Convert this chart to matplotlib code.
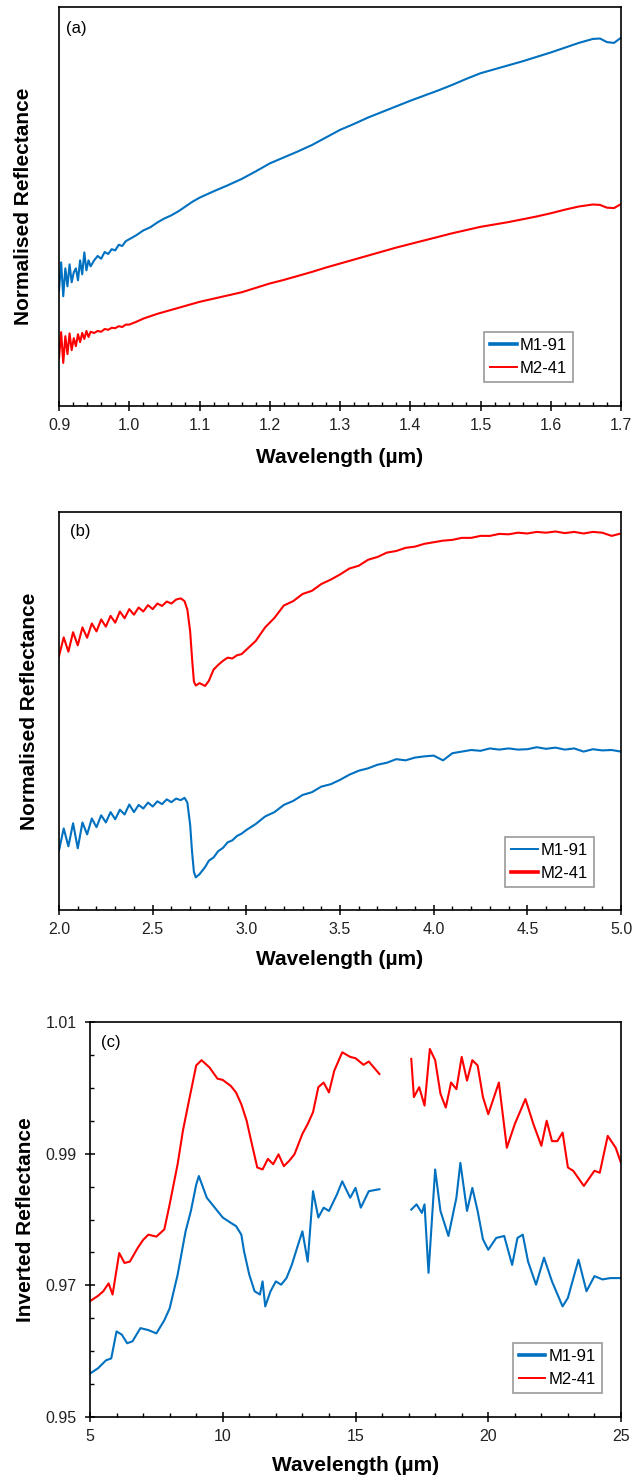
import matplotlib
matplotlib.use("Agg")
import matplotlib.pyplot as plt
from matplotlib.ticker import MultipleLocator, FormatStrFormatter

plt.rcParams['font.family'] = ['Liberation Sans', 'DejaVu Sans']

BLUE = '#0070C0'
RED = '#FF0000'

# (a) NIR, normalised reflectance (arbitrary units)
wl_a = [0.900, 0.903, 0.906, 0.909, 0.912, 0.915, 0.918, 0.921, 0.924, 0.927, 0.930, 0.933, 0.936, 0.939, 0.942, 0.945,
        0.950, 0.955, 0.960, 0.965, 0.970, 0.975, 0.980, 0.985, 0.990, 0.995, 1.000,
        1.01, 1.02, 1.03, 1.04, 1.05, 1.06, 1.07, 1.08, 1.09, 1.10,
        1.12, 1.14, 1.16, 1.18, 1.20, 1.22, 1.24, 1.26, 1.28, 1.30, 1.32, 1.34, 1.36, 1.38, 1.40,
        1.42, 1.44, 1.46, 1.48, 1.50, 1.52, 1.54, 1.56, 1.58, 1.60, 1.62, 1.64, 1.66,
        1.67, 1.68, 1.69, 1.70]
m1_a = [29.0, 36.0, 27.5, 34.5, 30.0, 35.5, 31.0, 33.5, 34.5, 31.5, 36.5, 33.0, 38.5, 34.0, 36.5, 35.0,
        36.5, 37.6, 36.9, 38.6, 38.1, 39.3, 39.0, 40.4, 40.1, 41.3, 41.8,
        42.8, 44.0, 44.8, 46.0, 47.0, 47.8, 48.8, 50.0, 51.2, 52.2,
        53.8, 55.3, 56.9, 58.8, 60.8, 62.3, 63.8, 65.4, 67.3, 69.2, 70.7, 72.3, 73.7, 75.1, 76.5,
        77.8, 79.1, 80.5, 82.0, 83.4, 84.4, 85.4, 86.4, 87.5, 88.6, 89.8, 91.0, 92.0,
        92.1, 91.2, 91.0, 92.3]
m2_a = [12.0, 18.5, 10.8, 17.5, 13.0, 18.2, 14.0, 17.0, 15.0, 18.0, 16.0, 18.3, 16.8, 18.8, 17.3, 18.6,
        18.3, 18.8, 18.6, 19.3, 19.1, 19.6, 19.5, 20.0, 19.8, 20.4, 20.4,
        21.1, 21.9, 22.5, 23.1, 23.6, 24.1, 24.6, 25.1, 25.6, 26.1,
        26.9, 27.7, 28.5, 29.6, 30.7, 31.6, 32.6, 33.6, 34.7, 35.7, 36.7, 37.7, 38.7, 39.7, 40.6,
        41.5, 42.4, 43.3, 44.1, 44.9, 45.5, 46.1, 46.8, 47.5, 48.3, 49.2, 50.0, 50.5,
        50.4, 49.7, 49.6, 50.6]

# (b) 2-5 um, normalised reflectance (arbitrary units)
wl_b = [2.000, 2.025, 2.050, 2.075, 2.100, 2.125, 2.150, 2.175, 2.200, 2.225, 2.250, 2.275, 2.300, 2.325,
        2.350, 2.375, 2.400, 2.425, 2.450, 2.475, 2.500, 2.525, 2.550, 2.575, 2.600, 2.625, 2.650,
        2.670, 2.685, 2.700, 2.710, 2.720, 2.730, 2.750, 2.780, 2.800, 2.825, 2.850, 2.875, 2.900,
        2.925, 2.950, 2.975, 3.000,
        3.05, 3.10, 3.15, 3.20, 3.25, 3.30, 3.35, 3.40, 3.45, 3.50, 3.55, 3.60, 3.65, 3.70, 3.75,
        3.80, 3.85, 3.90, 3.95, 4.00, 4.05, 4.10, 4.15, 4.20, 4.25, 4.30, 4.35, 4.40, 4.45, 4.50,
        4.55, 4.60, 4.65, 4.70, 4.75, 4.80, 4.85, 4.90, 4.95, 5.00]
m1_b = [15.0, 20.5, 16.0, 21.8, 15.5, 22.0, 19.0, 23.0, 20.8, 23.8, 22.0, 24.6, 22.8, 25.2,
        24.0, 26.5, 24.6, 26.4, 25.5, 27.0, 26.0, 27.3, 26.6, 27.8, 27.1, 28.0, 27.6,
        28.2, 27.0, 21.4, 14.7, 9.6, 8.2, 9.0, 10.8, 12.4, 13.2, 14.8, 15.6, 17.0,
        17.5, 18.6, 19.2, 20.1,
        21.6, 23.5, 24.6, 26.4, 27.4, 28.9, 29.6, 31.0, 31.6, 32.7, 34.0, 35.0, 35.6, 36.5, 37.0,
        37.9, 37.6, 38.3, 38.6, 38.8, 37.6, 39.4, 39.8, 40.2, 40.0, 40.6, 40.3, 40.6, 40.3, 40.4,
        40.9, 40.5, 40.8, 40.3, 40.6, 39.8, 40.4, 40.1, 40.2, 39.8]
m2_b = [63.8, 68.5, 64.9, 69.8, 66.5, 71.0, 68.4, 72.0, 70.0, 73.0, 71.2, 73.9, 72.2, 75.0,
        73.3, 75.6, 74.2, 76.0, 75.0, 76.6, 75.6, 77.0, 76.4, 77.5, 77.0, 78.0, 78.3,
        77.6, 75.5, 70.0, 63.3, 57.4, 56.4, 57.0, 56.3, 57.6, 60.4, 61.6, 62.6, 63.4,
        63.2, 64.0, 64.3, 65.4,
        67.6, 71.0, 73.4, 76.5, 77.6, 79.4, 80.2, 81.9, 83.0, 84.3, 85.8, 86.5, 88.0, 88.7, 89.8,
        90.2, 91.0, 91.3, 92.0, 92.4, 92.8, 93.0, 93.5, 93.5, 94.0, 94.0, 94.5, 94.4, 94.8, 94.6,
        95.0, 94.8, 95.1, 94.7, 95.0, 94.6, 95.0, 94.8, 94.0, 94.6]

# (c) mid-IR, inverted reflectance, two segments with a gap
wl_c1_m1 = [5.0, 5.3, 5.6, 5.8, 6.0, 6.2, 6.4, 6.6, 6.9, 7.2, 7.5, 7.8, 8.0, 8.3, 8.6, 8.8, 9.0, 9.1,
            9.4, 9.7, 10.0, 10.3, 10.5, 10.7, 10.8, 11.0, 11.2, 11.4, 11.5, 11.6, 11.8, 12.0, 12.2,
            12.4, 12.6, 12.8, 13.0, 13.2, 13.4, 13.6, 13.8, 14.0, 14.3, 14.5, 14.8, 15.0, 15.2, 15.5, 15.9]
m1_c1 = [0.9566, 0.9574, 0.9586, 0.9589, 0.9630, 0.9625, 0.9612, 0.9615, 0.9635, 0.9632, 0.9627, 0.9647,
         0.9665, 0.9716, 0.9782, 0.9813, 0.9853, 0.9866, 0.9833, 0.9818, 0.9803, 0.9795, 0.9790, 0.9777,
         0.9752, 0.9716, 0.9691, 0.9686, 0.9706, 0.9668, 0.9691, 0.9706, 0.9701, 0.9711, 0.9731, 0.9757,
         0.9782, 0.9736, 0.9843, 0.9803, 0.9818, 0.9813, 0.9838, 0.9858, 0.9833, 0.9848, 0.9818, 0.9843,
         0.9846]
wl_c2_m1 = [17.1, 17.3, 17.5, 17.6, 17.75, 18.0, 18.2, 18.5, 18.8, 18.95, 19.2, 19.4, 19.6, 19.8, 20.0,
            20.3, 20.6, 20.9, 21.1, 21.3, 21.5, 21.8, 22.1, 22.4, 22.8, 23.0, 23.4, 23.7, 24.0, 24.3,
            24.6, 25.0]
m1_c2 = [0.9815, 0.9823, 0.9810, 0.9823, 0.9719, 0.9876, 0.9813, 0.9775, 0.9833, 0.9886, 0.9813, 0.9848,
         0.9813, 0.9770, 0.9754, 0.9772, 0.9775, 0.9731, 0.9772, 0.9777, 0.9736, 0.9701, 0.9742, 0.9706,
         0.9668, 0.9681, 0.9739, 0.9691, 0.9714, 0.9709, 0.9711, 0.9711]
wl_c1_m2 = [5.0, 5.3, 5.5, 5.7, 5.85, 6.1, 6.3, 6.5, 6.8, 7.0, 7.2, 7.5, 7.8, 8.0, 8.3, 8.5, 8.7, 9.0,
            9.2, 9.5, 9.8, 10.0, 10.3, 10.5, 10.7, 10.9, 11.1, 11.3, 11.5, 11.7, 11.9, 12.1, 12.3, 12.5,
            12.7, 13.0, 13.2, 13.4, 13.6, 13.8, 14.0, 14.2, 14.5, 14.8, 15.0, 15.3, 15.5, 15.9]
m2_c1 = [0.9676, 0.9684, 0.9691, 0.9703, 0.9686, 0.9749, 0.9734, 0.9736, 0.9757, 0.9769, 0.9777, 0.9774,
         0.9785, 0.9823, 0.9884, 0.9935, 0.9975, 1.0034, 1.0042, 1.0031, 1.0014, 1.0012, 1.0003, 0.9993,
         0.9975, 0.9950, 0.9914, 0.9879, 0.9876, 0.9892, 0.9884, 0.9899, 0.9881, 0.9889, 0.9899, 0.9930,
         0.9945, 0.9963, 1.0001, 1.0008, 0.9993, 1.0026, 1.0054, 1.0047, 1.0045, 1.0035, 1.0040, 1.0021]
wl_c2_m2 = [17.1, 17.2, 17.4, 17.6, 17.8, 18.0, 18.2, 18.4, 18.6, 18.8, 19.0, 19.2, 19.4, 19.6, 19.8,
            20.0, 20.4, 20.7, 21.0, 21.4, 21.7, 22.0, 22.2, 22.4, 22.6, 22.8, 23.0, 23.2, 23.6, 24.0,
            24.2, 24.5, 24.8, 25.0]
m2_c2 = [1.0044, 0.9986, 1.0001, 0.9973, 1.0059, 1.0042, 0.9991, 0.9970, 1.0008, 0.9998, 1.0047, 1.0011,
         1.0042, 1.0034, 0.9986, 0.9960, 1.0008, 0.9909, 0.9945, 0.9983, 0.9945, 0.9912, 0.9950, 0.9919,
         0.9919, 0.9932, 0.9879, 0.9874, 0.9851, 0.9874, 0.9871, 0.9927, 0.9909, 0.9886]
c_yticks = [0.95, 0.97, 0.99, 1.01]

LW = 1.5
TICK_KW = dict(labelsize=11.5, colors='black', labelcolor='#222222')


def style_xaxis(ax, major, minor):
    ax.xaxis.set_major_locator(MultipleLocator(major))
    ax.xaxis.set_minor_locator(MultipleLocator(minor))
    ax.tick_params(axis='x', which='major', direction='inout', length=7, width=1.1, pad=5, **TICK_KW)
    ax.tick_params(axis='x', which='minor', direction='in', length=3, width=1.0)
    for s in ax.spines.values():
        s.set_linewidth(1.2)


def add_legend(ax, anchor, thick):
    leg = ax.legend(loc='upper right', bbox_to_anchor=anchor, borderaxespad=0, fontsize=12,
                    frameon=True, fancybox=False, edgecolor='#808080', handlelength=1.6,
                    handletextpad=0.2, labelspacing=0.5, borderpad=0.35)
    leg.get_frame().set_linewidth(1.2)
    for i, ln in enumerate(leg.get_lines()):
        ln.set_linewidth(2.6 if i == thick else 1.4)


fig = plt.figure(figsize=(6.34, 14.82), dpi=100)

# (a)
ax1 = fig.add_axes([0.0931, 0.72605, 0.8864, 0.26923])
ax1.plot(wl_a, m1_a, color=BLUE, lw=LW, label='M1-91')
ax1.plot(wl_a, m2_a, color=RED, lw=LW, label='M2-41')
ax1.set_xlim(0.9, 1.7)
ax1.set_ylim(0, 100)
ax1.set_yticks([])
style_xaxis(ax1, 0.1, 0.02)
ax1.xaxis.set_major_formatter(FormatStrFormatter('%.1f'))
ax1.set_xlabel('Wavelength (µm)', fontsize=15, fontweight='bold')
ax1.set_ylabel('Normalised Reflectance', fontsize=15, fontweight='bold')
ax1.xaxis.set_label_coords(0.5, -0.106)
ax1.yaxis.set_label_coords(-0.046, 0.5)
ax1.text(0.012, 0.945, '(a)', transform=ax1.transAxes, fontsize=12, va='center', ha='left')
add_legend(ax1, (0.9146, 0.1855), 0)

# (b)
ax2 = fig.add_axes([0.0931, 0.38596, 0.8864, 0.26856])
ax2.plot(wl_b, m1_b, color=BLUE, lw=LW, label='M1-91')
ax2.plot(wl_b, m2_b, color=RED, lw=LW, label='M2-41')
ax2.set_xlim(2.0, 5.0)
ax2.set_ylim(0, 100)
ax2.set_yticks([])
style_xaxis(ax2, 0.5, 0.1)
ax2.xaxis.set_major_formatter(FormatStrFormatter('%.1f'))
ax2.set_xlabel('Wavelength (µm)', fontsize=15, fontweight='bold')
ax2.set_ylabel('Normalised Reflectance', fontsize=15, fontweight='bold')
ax2.xaxis.set_label_coords(0.5, -0.101)
ax2.yaxis.set_label_coords(-0.036, 0.5)
ax2.text(0.020, 0.950, '(b)', transform=ax2.transAxes, fontsize=12, va='center', ha='left')
add_legend(ax2, (0.952, 0.1834), 1)

# (c)
ax3 = fig.add_axes([0.14196, 0.04386, 0.83754, 0.26653])
ax3.plot(wl_c1_m1, m1_c1, color=BLUE, lw=LW, label='M1-91')
ax3.plot(wl_c1_m2, m2_c1, color=RED, lw=LW, label='M2-41')
ax3.plot(wl_c2_m1, m1_c2, color=BLUE, lw=LW)
ax3.plot(wl_c2_m2, m2_c2, color=RED, lw=LW)
ax3.set_xlim(5, 25)
ax3.set_ylim(0.95, 1.01)
style_xaxis(ax3, 5, 1)
ax3.set_yticks(c_yticks)
ax3.yaxis.set_minor_locator(MultipleLocator(0.005))
ax3.yaxis.set_major_formatter(FormatStrFormatter('%.2f'))
ax3.tick_params(axis='y', which='major', direction='inout', length=7, width=1.1, pad=6, **TICK_KW)
ax3.tick_params(axis='y', which='minor', direction='in', length=3, width=1.0)
ax3.set_xlabel('Wavelength (µm)', fontsize=15, fontweight='bold')
ax3.set_ylabel('Inverted Reflectance', fontsize=15, fontweight='bold')
ax3.xaxis.set_label_coords(0.5, -0.100)
ax3.yaxis.set_label_coords(-0.104, 0.5)
ax3.text(0.020, 0.947, '(c)', transform=ax3.transAxes, fontsize=12, va='center', ha='left')
add_legend(ax3, (0.964, 0.187), 0)

fig.savefig('out.png', dpi=100)
